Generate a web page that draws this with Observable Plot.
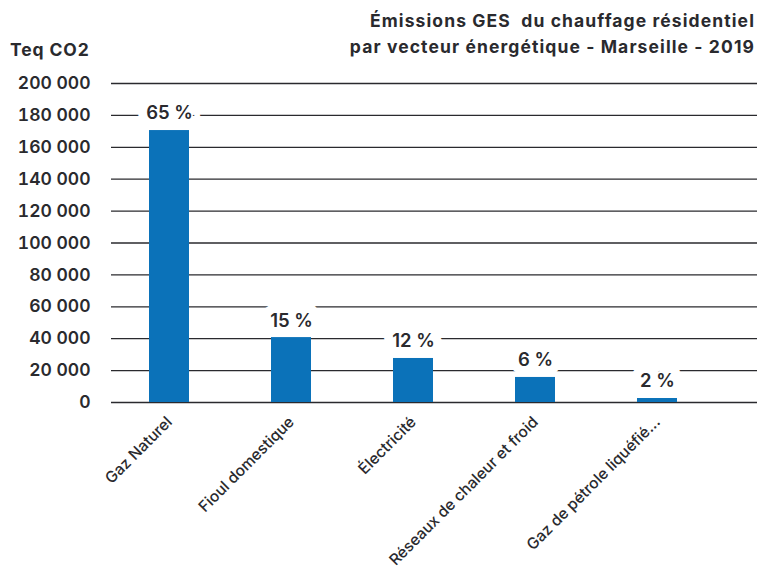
<!DOCTYPE html>
<html>
<head>
<meta charset="utf-8">
<script src="https://cdn.jsdelivr.net/npm/d3@7"></script>
<script src="https://cdn.jsdelivr.net/npm/@observablehq/plot@0.6"></script>
<style>
  html, body { margin: 0; padding: 0; background: #fff; }
  #wrap { position: relative; width: 758px; height: 574px; font-family: Inter, "Open Sans", sans-serif; color: #2a2a2e; }
  #title { position: absolute; right: 3px; top: 8px; text-align: right; font-weight: 700; font-size: 17.5px; letter-spacing: 1.1px; line-height: 25.5px; white-space: pre; }
  #ylab { position: absolute; left: 10px; top: 38px; font-weight: 700; font-size: 17.5px; letter-spacing: 0.9px; line-height: 24px; }
  svg { display: block; }
</style>
</head>
<body>
<div id="wrap">
  <div id="title">Émissions GES  du chauffage résidentiel
par vecteur énergétique - Marseille - 2019</div>
  <div id="ylab">Teq CO2</div>
</div>
<script>
const categories = ["Gaz Naturel", "Fioul domestique", "Électricité", "Réseaux de chaleur et froid", "Gaz de pétrole liquéfié..."];
const values = [170500, 40700, 27600, 15700, 2500];
const percentLabels = ["65 %", "15 %", "12 %", "6 %", "2 %"];
const yTicks = [0, 20000, 40000, 60000, 80000, 100000, 120000, 140000, 160000, 180000, 200000];

const data = categories.map((c, i) => ({cat: c, value: values[i], pct: percentLabels[i]}));
const fmt = d => d3.format(",")(d).replace(/,/g, " ");
const ink = "#2a2a2e";

const chart = Plot.plot({
  width: 758,
  height: 574,
  marginTop: 83,
  marginBottom: 172,
  marginLeft: 111,
  marginRight: 1,
  style: {fontFamily: "Inter, Open Sans, sans-serif", color: ink, background: "white"},
  x: {domain: categories, range: [108, 718], paddingInner: 0.672, paddingOuter: 0.336, label: null},
  y: {domain: [0, 200000], label: null},
  marks: [
    Plot.ruleY(yTicks, {stroke: ink, strokeWidth: 1.3, strokeOpacity: 1}),
    Plot.text(data, {x: "cat", y: "value", text: "pct", dy: -17, fontSize: 18.5, fontWeight: 600, fill: ink, stroke: "white", strokeWidth: 18, strokeLinejoin: "round", lineAnchor: "middle"}),
    Plot.barY(data, {x: "cat", y: "value", fill: "#0b72b9"}),
    Plot.axisY({ticks: yTicks, tickFormat: fmt, tickSize: 0, tickPadding: 21, fontSize: 17.5, fontWeight: 600, label: null}),
    Plot.axisX({tickRotate: -45, tickSize: 0, tickPadding: 17, fontSize: 15.5, fontWeight: 500, label: null})
  ]
});
document.getElementById("wrap").appendChild(chart);
</script>
</body>
</html>
